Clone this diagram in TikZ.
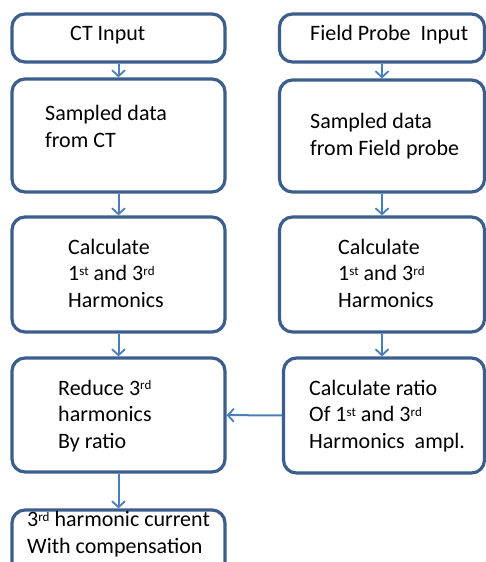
\documentclass[tikz,border=0pt]{standalone}
\usepackage{fontspec}
\setmainfont{Carlito}
\usetikzlibrary{arrows.meta}
\definecolor{boxline}{HTML}{3B5E8C}
\definecolor{arrline}{HTML}{4A7EBB}
\newcommand\supx[1]{\raisebox{0.5ex}{\fontsize{13}{13}\selectfont #1}}
\begin{document}
\begin{tikzpicture}[x=1pt, y=-1pt,
    blk/.style={draw=boxline, line width=3.2pt, rounded corners=13pt, fill=white, minimum width=205pt, inner sep=0pt},
    txt/.style={anchor=base west, align=left, inner sep=0pt, font=\fontsize{22}{26.5}\selectfont},
    arr/.style={draw=arrline, line width=2pt, -{Straight Barb[length=6pt, width=13pt, line width=1.8pt]}}]
    \clip (0, 0) rectangle (486, 562);
    \fill [white] (0, 0) rectangle (486, 562);
    % left column
    \node [blk, minimum width=213pt, minimum height=48pt] (ct) at (118.5, 38) {};
    \node [blk, minimum width=213pt, minimum height=113pt] (sl) at (118.5, 135.5) {};
    \node [blk, minimum width=213pt, minimum height=115pt] (cl) at (118.5, 274.5) {};
    \node [blk, minimum width=213pt, minimum height=114pt] (rl) at (118.5, 415) {};
    \node [blk, minimum width=213pt, minimum height=100pt] (out) at (118.5, 560) {};
    % right column
    \node [blk, minimum height=48pt] (fp) at (382, 38) {};
    \node [blk, minimum height=112pt] (sr) at (382, 136) {};
    \node [blk, minimum height=115pt] (cr) at (382, 274.5) {};
    \node [blk, minimum width=201pt, minimum height=115pt] (rr) at (384, 415.5) {};
    % texts (anchored at the baseline of the last line)
    \node [txt] (ct-t) at (70, 40) {CT Input};
    \node [txt] (fp-t) at (310, 40) {Field Probe\ \ Input};
    \node [txt] (sl-t) at (45, 147) {Sampled data\\from CT};
    \node [txt] (sr-t) at (310, 155) {Sampled data\\from Field probe};
    \node [txt] (cl-t) at (68, 307) {Calculate\\1\supx{st} and 3\supx{rd}\\Harmonics};
    \node [txt] (cr-t) at (338, 307) {Calculate\\1\supx{st} and 3\supx{rd}\\Harmonics};
    \node [txt] (rl-t) at (58, 448) {Reduce 3\supx{rd}\\harmonics\\By ratio};
    \node [txt] (rr-t) at (309, 448) {Calculate ratio\\Of 1\supx{st} and 3\supx{rd}\\Harmonics\ \ ampl.};
    \node [txt] (out-t) at (27, 553) {3\supx{rd} harmonic current\\With compensation};
    % connectors
    \draw [arr] (ct) -- (sl);
    \draw [arr] (sl) -- (cl);
    \draw [arr] (cl) -- (rl);
    \draw [arr] (rl) -- (out);
    \draw [arr] (fp) -- (sr);
    \draw [arr] (sr) -- (cr);
    \draw [arr] (cr) -- (rr.north -| cr);
    \draw [arr] (rr) -- (rl);
\end{tikzpicture}
\end{document}
